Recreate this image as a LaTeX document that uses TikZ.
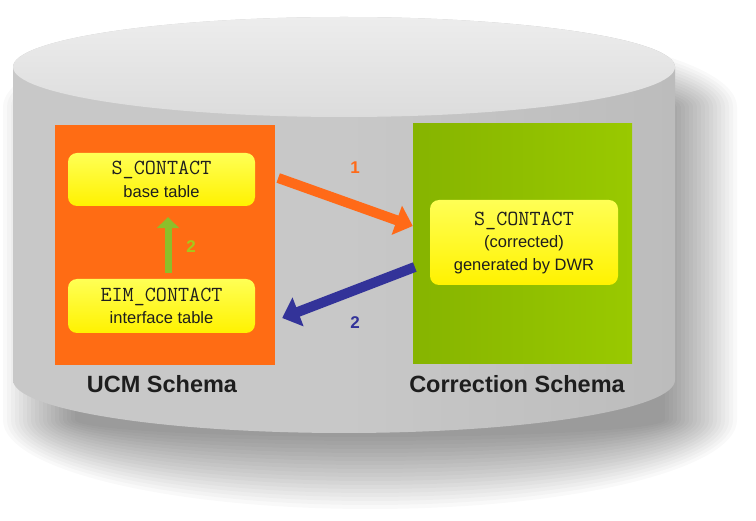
\documentclass[tikz,border=0pt]{standalone}
\usepackage{fontspec}
\setmainfont{Liberation Sans}
\usetikzlibrary{arrows.meta}

\definecolor{bodygray}{HTML}{C8C8C8}
\definecolor{bodydark}{HTML}{BCBCBC}
\definecolor{lidtop}{HTML}{EDEDED}
\definecolor{lidbot}{HTML}{DCDCDC}
\definecolor{ucmorange}{HTML}{FF6C14}
\definecolor{corrdark}{HTML}{86B400}
\definecolor{corrlight}{HTML}{99C900}
\definecolor{tabletop}{HTML}{FFFF55}
\definecolor{tablebot}{HTML}{FFF200}
\definecolor{flowone}{HTML}{FF6A18}
\definecolor{flowtwo}{HTML}{333399}
\definecolor{flowup}{HTML}{8CBF2A}
\definecolor{labelup}{HTML}{A6C81A}
\definecolor{inktext}{HTML}{1E1E1E}

\tikzset{
  schemabox/.style={minimum width=#1, minimum height=240pt, inner sep=0pt},
  tablebox/.style={rounded corners=9pt, top color=tabletop, bottom color=tablebot,
    text=inktext, align=center, inner sep=0pt, minimum width=187pt,
    font=\fontsize{16.5}{22.5}\selectfont},
  schemalabel/.style={font=\fontsize{23.5}{26}\selectfont\bfseries, text=inktext},
  flowlabel/.style={font=\fontsize{17}{20}\selectfont\bfseries},
  bigarrow/.style={line width=10pt, -{Triangle[width=30pt,length=17pt]}},
}
\newcommand{\tname}[1]{{\fontsize{21.5}{22.5}\selectfont\ttfamily #1}}
% drum outline grown outwards by #1 (pt)
\newcommand{\drumoutline}[1]{%
  (13-#1,-67) -- (13-#1,-380)
  arc[start angle=180, end angle=360, x radius=331pt+#1pt, y radius=53pt+#1pt]
  -- (675+#1,-67)
  arc[start angle=0, end angle=180, x radius=331pt+#1pt, y radius=50pt+#1pt] -- cycle}

\begin{document}
\begin{tikzpicture}[x=1pt,y=1pt]
\useasboundingbox (0,0) rectangle (756,-521);
\fill[white] (0,0) rectangle (756,-521);

% soft cast shadow: stacked faint copies of the drum outline
\begin{scope}[shift={(26,-40)}]
  \foreach \d in {-36,-32,...,36} {
    \fill[black, opacity=0.024] \drumoutline{\d};
  }
\end{scope}

% drum body
\path[left color=bodygray, right color=bodydark, middle color=bodygray] \drumoutline{0};
% lid of the drum
\shade[top color=lidtop, bottom color=lidbot]
  (344,-67) ellipse[x radius=331pt, y radius=50pt];

% the two schemas
\node[schemabox=220pt, fill=ucmorange] (ucm) at (165,-245) {};
\node[schemabox=219pt, left color=corrdark, right color=corrlight] (corr) at (522.5,-244) {};

% tables
\node[tablebox, minimum height=53pt] (base) at (161.5,-179.5)
  {\tname{S\_CONTACT}\\base table};
\node[tablebox, minimum height=54pt] (eim) at (161.5,-306)
  {\tname{EIM\_CONTACT}\\interface table};
\node[tablebox, minimum height=85pt, minimum width=188pt] (fixed) at (524,-242.5)
  {\tname{S\_CONTACT}\\(corrected)\\generated by DWR};

% flows between the tables
\draw[flowone, bigarrow] ([xshift=23pt,yshift=1.5pt]base.east) -- ([yshift=18pt]corr.west);
\draw[flowtwo, bigarrow] ([xshift=2pt,yshift=-23pt]corr.west) -- ([xshift=27pt,yshift=-12pt]eim.east);
\draw[flowup, line width=7pt, -{Triangle[width=22pt,length=11pt]}]
  ([xshift=6.5pt,yshift=6pt]eim.north) -- ([xshift=6.5pt,yshift=-11pt]base.south);

\node[flowlabel, text=flowone] (one) at (355,-168) {1};
\node[flowlabel, text=flowtwo] (two) at (355,-323) {2};
\node[flowlabel, text=labelup] (twoup) at (191,-247) {2};

% schema captions
\node[schemalabel] (ucmcap) at ([xshift=-3pt,yshift=-19pt]ucm.south) {UCM Schema};
\node[schemalabel] (corrcap) at ([xshift=-5.5pt,yshift=-20pt]corr.south) {Correction Schema};
\end{tikzpicture}
\end{document}
